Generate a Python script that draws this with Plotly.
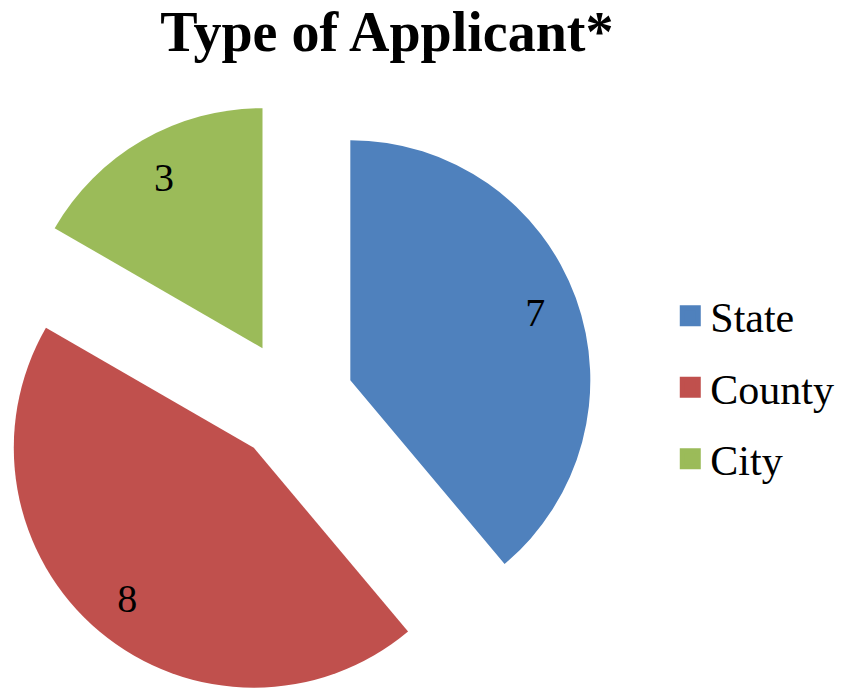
import math
import plotly.graph_objects as go

categories = ["State", "County", "City"]
counts = [7, 8, 3]
colors = ["#4F81BD", "#C0504D", "#9BBB59"]
title_text = "Type of Applicant*"

FONT = "Liberation Serif"
W, H = 841, 688
# pie geometry (pixels): centre of unexploded pie, radius, explode distance
CX, CY, R, EXPLODE = 293, 401, 240, 61

fig = go.Figure()
total = sum(counts)
cum = 0
transparent = "rgba(0,0,0,0)"
for i, v in enumerate(counts):
    mid = math.radians((cum + v / 2) / total * 360)
    cum += v
    ax = CX + EXPLODE * math.sin(mid)
    ay = CY - EXPLODE * math.cos(mid)
    dom = dict(
        x=[max(0, (ax - R) / W), min(1, (ax + R) / W)],
        y=[max(0, 1 - (ay + R) / H), min(1, 1 - (ay - R) / H)],
    )
    slice_colors = [colors[j] if j == i else transparent for j in range(len(counts))]
    # the exploded slice itself
    fig.add_trace(go.Pie(
        labels=categories, values=counts, sort=False, direction="clockwise", rotation=0,
        domain=dom, marker=dict(colors=slice_colors), textinfo="none",
        hoverinfo="label+value", showlegend=False,
    ))
    # transparent ring carrying the value label at ~0.8 r
    fig.add_trace(go.Pie(
        labels=categories, values=counts, sort=False, direction="clockwise", rotation=0,
        domain=dom, hole=0.64,
        marker=dict(colors=[transparent] * len(counts)),
        text=[str(counts[j]) if j == i else "" for j in range(len(counts))],
        textinfo="text", textposition="inside", insidetextorientation="horizontal",
        insidetextfont=dict(family=FONT, size=40, color="black"),
        hoverinfo="skip", showlegend=False,
    ))

# legend entries
for name, col in zip(categories, colors):
    fig.add_trace(go.Scatter(
        x=[None], y=[None], mode="markers", name=name, legendgroup=name,
        marker=dict(symbol="square", size=16, color=col, line=dict(color=col, width=5)),
        showlegend=True, hoverinfo="skip",
    ))

fig.update_layout(
    width=W, height=H,
    margin=dict(l=0, r=0, t=0, b=0),
    paper_bgcolor="white", plot_bgcolor="white",
    xaxis=dict(visible=False), yaxis=dict(visible=False),
    title=dict(text=f"<b>{title_text}</b>", x=0.46, xanchor="center",
               y=0.955, yanchor="middle", yref="container",
               font=dict(family=FONT, size=56, color="black")),
    legend=dict(x=0.797, xanchor="left", y=0.437, yanchor="middle",
                traceorder="grouped", tracegroupgap=14,
                font=dict(family=FONT, size=42, color="black"),
                bgcolor="rgba(0,0,0,0)"),
    font=dict(family=FONT),
)

fig.write_html("out.html", config={"displayModeBar": False},
               post_script="document.body.style.margin='0';")
